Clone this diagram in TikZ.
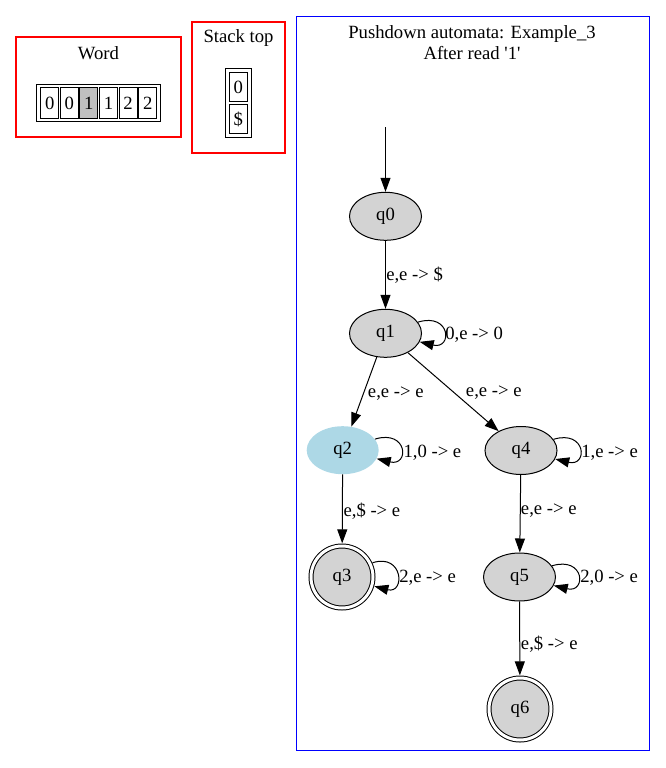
\documentclass[tikz,border=0pt]{standalone}
\usepackage{fontspec}
\setmainfont{Liberation Serif}
\usetikzlibrary{arrows.meta,shapes.geometric}
\definecolor{stategray}{HTML}{D3D3D3}
\definecolor{cellgray}{HTML}{C0C0C0}
\definecolor{qblue}{HTML}{ADD8E6}
\definecolor{framered}{HTML}{FF0000}
\definecolor{frameblue}{HTML}{0000FF}
\begin{document}
\begin{tikzpicture}[x=0.75pt,y=-0.75pt,
  font=\fontsize{14pt}{16pt}\selectfont,
  redframe/.style={draw=framered, line width=1.1pt, inner sep=0pt},
  blueframe/.style={draw=frameblue, line width=0.75pt, inner sep=0pt},
  title/.style={inner sep=0pt, anchor=center},
  cellbox/.style={draw, line width=0.75pt, minimum width=13.5pt, minimum height=22.8pt, inner sep=0pt},
  holder/.style={draw, line width=0.75pt, inner sep=0pt},
  statenode/.style={ellipse, draw, line width=0.75pt, fill=stategray, minimum width=54pt, minimum height=36pt, inner sep=0pt},
  curstate/.style={ellipse, fill=qblue, minimum width=54pt, minimum height=36pt, inner sep=0pt},
  accept/.style={circle, draw, line width=0.75pt, double=white, double distance=2.25pt, fill=stategray, minimum size=46.5pt, inner sep=0pt, outer sep=2pt},
  edge/.style={line width=0.75pt, -{Triangle[length=10.5pt,width=7.5pt]}},
  lbl/.style={anchor=west, inner sep=0pt}
]
\useasboundingbox (0,0) rectangle (665,768);

% Word frame
\draw[redframe] (16,37) rectangle (181,137);
\node[title] (wordtitle) at (98.5,53) {Word};
\node[holder, minimum width=93pt, minimum height=28pt] (tape) at (98.7,103) {};
\node[cellbox] (c1) at (49.7,103) {0};
\node[cellbox] (c2) at (69.3,103) {0};
\node[cellbox, fill=cellgray] (c3) at (88.9,103) {1};
\node[cellbox] (c4) at (108.5,103) {1};
\node[cellbox] (c5) at (128.1,103) {2};
\node[cellbox] (c6) at (147.7,103) {2};

% Stack frame
\draw[redframe] (192,22) rectangle (285,153);
\node[title] (stacktitle) at (238.5,38.5) {Stack top};
\node[holder, minimum width=19.5pt, minimum height=52pt] (stack) at (238.3,103) {};
\node[cellbox, minimum width=13.3pt, minimum height=22pt] (s1) at (238.2,87) {0};
\node[cellbox, minimum width=13.3pt, minimum height=22pt] (s2) at (238.2,119) {\$};

% Main frame
\draw[blueframe] (296,16) rectangle (649,750);
\node[title] (maintitle1) at (472,34.5) {Pushdown automata: Example\_3};
\node[title] (maintitle2) at (472,53) {After read \textquotesingle 1\textquotesingle};

% States
\node[statenode] (q0) at (385.5,216.3) {q0};
\node[statenode] (q1) at (385.5,333.3) {q1};
\node[curstate] (q2) at (342.7,450.2) {q2};
\node[statenode] (q4) at (521,450.5) {q4};
\node[accept] (q3) at (342,577) {q3};
\node[statenode] (q5) at (519.5,577) {q5};
\node[accept] (q6) at (520,709) {q6};

\coordinate (start) at (385.5,127);
\draw[edge] (start) -- (q0);
\draw[edge] (q0) -- (q1);
\draw[edge] (q1) -- (q2);
\draw[edge] (q1) -- (q4);
\draw[edge] (q2) -- (q3);
\draw[edge] (q4) -- (q5);
\draw[edge] (q5) -- (q6);

% self loops
\draw[edge] (q1.19) .. controls +(33,-10) and +(33,8) .. (q1.-14);
\draw[edge] (q2.19) .. controls +(33,-10) and +(33,8) .. (q2.-14);
\draw[edge] (q4.19) .. controls +(33,-10) and +(33,8) .. (q4.-14);
\draw[edge] (q5.19) .. controls +(33,-10) and +(33,8) .. (q5.-14);
\draw[edge] (q3.25) .. controls +(31,-10) and +(31,8) .. (q3.-16);

% labels
\node[lbl] (l01) at (386,275) {e,e -> \$};
\node[lbl] (l11) at (445,335) {0,e -> 0};
\node[lbl] (l12) at (367.7,394) {e,e -> e};
\node[lbl] (l14) at (465.7,393) {e,e -> e};
\node[lbl] (l22) at (403.3,452.7) {1,0 -> e};
\node[lbl] (l44) at (581,452.7) {1,e -> e};
\node[lbl] (l23) at (343.3,510.7) {e,\$ -> e};
\node[lbl] (l45) at (520.7,510.7) {e,e -> e};
\node[lbl] (l33) at (399,578) {2,e -> e};
\node[lbl] (l55) at (580,578) {2,0 -> e};
\node[lbl] (l56) at (520.7,644) {e,\$ -> e};
\end{tikzpicture}
\end{document}
